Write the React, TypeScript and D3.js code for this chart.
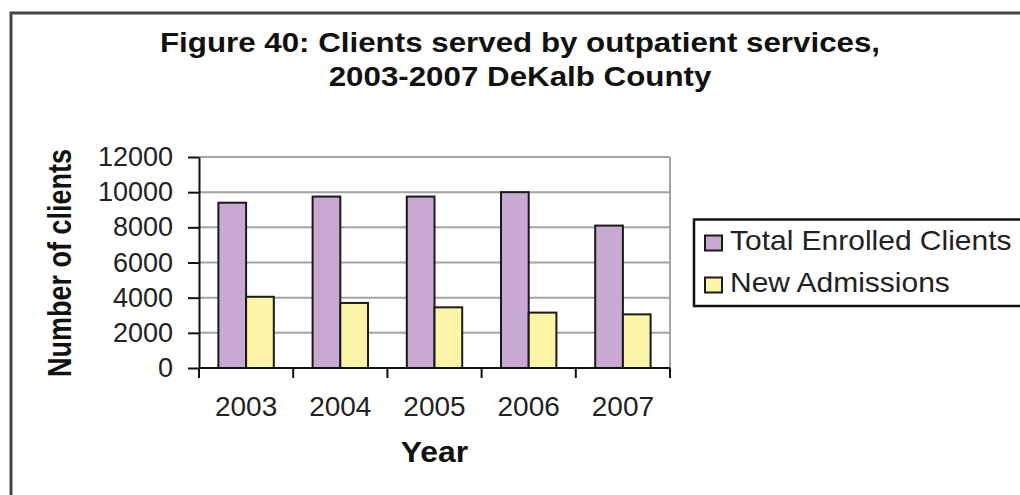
import React, { useRef, useEffect } from "react";
import * as d3 from "d3";

const years = ["2003", "2004", "2005", "2006", "2007"];
const seriesNames = ["Total Enrolled Clients", "New Admissions"];
const totalEnrolled = [9400, 9750, 9750, 10000, 8100];
const newAdmissions = [4050, 3700, 3450, 3150, 3050];
const yTicks = [0, 2000, 4000, 6000, 8000, 10000, 12000];
const seriesColors = ["#c8a9d2", "#fcf4a6"];
const titleLines = [
  "Figure 40: Clients served by outpatient services,",
  "2003-2007 DeKalb County",
];

const WIDTH = 1020;
const HEIGHT = 495;
const FONT = "'Liberation Sans', Arial, Helvetica, sans-serif";

const App: React.FC = () => {
  const svgRef = useRef<SVGSVGElement | null>(null);

  useEffect(() => {
    if (!svgRef.current) return;
    const svg = d3.select(svgRef.current);
    svg.selectAll("*").remove();

    const plot = { left: 199, right: 670, top: 157, bottom: 368 };
    const seriesValues = [totalEnrolled, newAdmissions];

    const x = d3.scaleBand<string>().domain(years).range([plot.left, plot.right]);
    const xInner = d3
      .scaleBand<string>()
      .domain(seriesNames)
      .range([0, x.bandwidth()])
      .paddingOuter(0.7);
    const y = d3.scaleLinear().domain([0, 12000]).range([plot.bottom, plot.top]);

    // outer frame (only top and left edges show in the window)
    svg
      .append("rect")
      .attr("x", 11)
      .attr("y", 13)
      .attr("width", 1200)
      .attr("height", 700)
      .attr("fill", "#fff")
      .attr("stroke", "#454545")
      .attr("stroke-width", 3);

    // title
    svg
      .selectAll("text.title")
      .data(titleLines)
      .enter()
      .append("text")
      .attr("class", "title")
      .attr("transform", (d, i) => `translate(520,${52 + i * 34}) scale(1.16,1)`)
      .attr("text-anchor", "middle")
      .attr("font-family", FONT)
      .attr("font-weight", "bold")
      .attr("font-size", 27)
      .attr("fill", "#111")
      .text((d) => d);

    // grid
    svg
      .append("g")
      .selectAll("line")
      .data(yTicks.filter((t) => t > 0))
      .enter()
      .append("line")
      .attr("x1", plot.left)
      .attr("x2", plot.right)
      .attr("y1", (d) => y(d))
      .attr("y2", (d) => y(d))
      .attr("stroke", "#a3a3a3")
      .attr("stroke-width", 2);

    svg
      .append("line")
      .attr("x1", plot.right)
      .attr("x2", plot.right)
      .attr("y1", plot.top)
      .attr("y2", plot.bottom)
      .attr("stroke", "#a3a3a3")
      .attr("stroke-width", 2);

    // bars
    const groups = svg
      .append("g")
      .selectAll("g")
      .data(years)
      .enter()
      .append("g")
      .attr("transform", (d) => `translate(${x(d)},0)`);

    groups
      .selectAll("rect")
      .data((d, i) => seriesNames.map((s, j) => ({ s, j, v: seriesValues[j][i] })))
      .enter()
      .append("rect")
      .attr("x", (d) => xInner(d.s) as number)
      .attr("y", (d) => y(d.v))
      .attr("width", xInner.bandwidth())
      .attr("height", (d) => plot.bottom - y(d.v))
      .attr("fill", (d) => seriesColors[d.j])
      .attr("stroke", "#1a1a1a")
      .attr("stroke-width", 2);

    // y axis
    const yAxis = svg
      .append("g")
      .attr("transform", `translate(${plot.left},0)`)
      .call(
        d3
          .axisLeft(y)
          .tickValues(yTicks)
          .tickSizeInner(11)
          .tickSizeOuter(0)
          .tickPadding(15)
          .tickFormat(d3.format("d"))
      );
    yAxis.select(".domain").attr("stroke", "#111").attr("stroke-width", 2);
    yAxis.selectAll(".tick line").attr("stroke", "#111").attr("stroke-width", 2);
    yAxis
      .selectAll(".tick text")
      .attr("font-family", FONT)
      .attr("font-size", 27)
      .attr("fill", "#222");

    // x axis
    svg
      .append("line")
      .attr("x1", plot.left)
      .attr("x2", plot.right)
      .attr("y1", plot.bottom)
      .attr("y2", plot.bottom)
      .attr("stroke", "#111")
      .attr("stroke-width", 2);

    const boundaries = years.map((d) => x(d) as number).concat([plot.right]);
    svg
      .append("g")
      .selectAll("line")
      .data(boundaries)
      .enter()
      .append("line")
      .attr("x1", (d) => d)
      .attr("x2", (d) => d)
      .attr("y1", plot.bottom)
      .attr("y2", plot.bottom + 10)
      .attr("stroke", "#111")
      .attr("stroke-width", 2);

    svg
      .append("g")
      .selectAll("text")
      .data(years)
      .enter()
      .append("text")
      .attr("x", (d) => (x(d) as number) + x.bandwidth() / 2)
      .attr("y", 416)
      .attr("text-anchor", "middle")
      .attr("font-family", FONT)
      .attr("font-size", 28)
      .attr("fill", "#222")
      .text((d) => d);

    // axis titles
    svg
      .append("text")
      .attr("transform", `translate(${(plot.left + plot.right) / 2},462) scale(1.1,1)`)
      .attr("text-anchor", "middle")
      .attr("font-family", FONT)
      .attr("font-weight", "bold")
      .attr("font-size", 29)
      .attr("fill", "#111")
      .text("Year");

    svg
      .append("text")
      .attr("transform", `translate(71,263) scale(1.2,1) rotate(-90)`)
      .attr("text-anchor", "middle")
      .attr("font-family", FONT)
      .attr("font-weight", "bold")
      .attr("font-size", 27)
      .attr("fill", "#111")
      .text("Number of clients");

    // legend
    const legend = svg.append("g").attr("transform", "translate(694,219.5)");
    legend
      .append("rect")
      .attr("width", 400)
      .attr("height", 86.5)
      .attr("fill", "#fff")
      .attr("stroke", "#111")
      .attr("stroke-width", 2.5);

    const items = legend
      .selectAll("g.item")
      .data(seriesNames)
      .enter()
      .append("g")
      .attr("class", "item")
      .attr("transform", (d, i) => `translate(0,${i * 42})`);

    items
      .append("rect")
      .attr("x", 11)
      .attr("y", 16)
      .attr("width", 17)
      .attr("height", 15)
      .attr("fill", (d, i) => seriesColors[i])
      .attr("stroke", "#1a1a1a")
      .attr("stroke-width", 2);

    items
      .append("text")
      .attr("transform", "translate(36,30.5) scale(1.11,1)")
      .attr("font-family", FONT)
      .attr("font-size", 27)
      .attr("fill", "#222")
      .text((d) => d);
  }, []);

  return (
    <svg
      ref={svgRef}
      width={WIDTH}
      height={HEIGHT}
      style={{ position: "absolute", left: 0, top: 0, background: "#fff" }}
    ></svg>
  );
};

export default App;
